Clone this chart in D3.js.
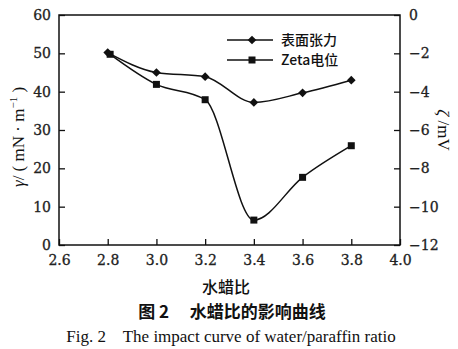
<!DOCTYPE html>
<html>
<head>
<meta charset="utf-8">
<script src="https://cdn.jsdelivr.net/npm/d3@7"></script>
<style>
  body { margin: 0; background: #fff; }
  svg text { fill: #111; }
</style>
</head>
<body>
<svg id="chart"></svg>
<script>
var ratio = [2.8, 3.0, 3.2, 3.4, 3.6, 3.8];
var zetaRatio = [2.81, 3.0, 3.2, 3.4, 3.6, 3.8];
var tension = [50.2, 45.0, 43.9, 37.2, 39.7, 43.0];   // mN/m, left axis
var zeta = [-2.05, -3.62, -4.42, -10.7, -8.47, -6.82]; // mV, right axis
var xTicks = [2.6, 2.8, 3.0, 3.2, 3.4, 3.6, 3.8, 4.0];
var yTicks = [0, 10, 20, 30, 40, 50, 60];
var zTicks = [0, -2, -4, -6, -8, -10, -12];
var legendNames = ["表面张力", "Zeta电位"];

var w = 458, h = 349;
var m = {left: 59, right: 58, top: 15, bottom: 104};

var svg = d3.select("#chart").attr("width", w).attr("height", h);

var x = d3.scaleLinear().domain([2.6, 4.0]).range([m.left, w - m.right]);
var y = d3.scaleLinear().domain([0, 60]).range([h - m.bottom, m.top]);
var z = d3.scaleLinear().domain([-12, 0]).range([h - m.bottom, m.top]);

var serif = "Liberation Serif, serif";
var tickFont = "DejaVu Serif, serif";
var cjk = "Noto Sans CJK SC, sans-serif";

// axes, ticks pointing inward
var gx = svg.append("g").attr("transform", "translate(0," + (h - m.bottom) + ")")
  .call(d3.axisTop(x).tickValues(xTicks).tickFormat(d3.format(".1f")).tickSize(6).tickPadding(0));
gx.selectAll("text").attr("y", 20).attr("dy", 0);

var gy = svg.append("g").attr("transform", "translate(" + m.left + ",0)")
  .call(d3.axisRight(y).tickValues(yTicks).tickSize(6));
gy.selectAll("text").attr("x", -8).attr("text-anchor", "end");

var gz = svg.append("g").attr("transform", "translate(" + (w - m.right) + ",0)")
  .call(d3.axisLeft(z).tickValues(zTicks).tickSize(6).tickFormat(function(d) { return d < 0 ? "\u2212" + (-d) : d; }));
gz.selectAll("text").attr("x", 9).attr("text-anchor", "start");

svg.selectAll(".domain").remove();
svg.selectAll(".tick line").attr("stroke", "#111").attr("stroke-width", 1.3);
svg.selectAll(".tick text").attr("font-family", tickFont).attr("font-size", 14)
  .attr("stroke", "#222").attr("stroke-width", 0.3).style("fill", "#222");

// frame
svg.append("rect")
  .attr("x", m.left).attr("y", m.top)
  .attr("width", w - m.right - m.left).attr("height", h - m.bottom - m.top)
  .attr("fill", "none").attr("stroke", "#111").attr("stroke-width", 1.5);

// curves
var lineT = d3.line().curve(d3.curveMonotoneX)
  .x(function(d, i) { return x(ratio[i]); }).y(function(d) { return y(d); });
var lineZ = d3.line().curve(d3.curveMonotoneX)
  .x(function(d, i) { return x(zetaRatio[i]); }).y(function(d) { return z(d); });

svg.append("path").attr("d", lineT(tension)).attr("fill", "none").attr("stroke", "#111").attr("stroke-width", 1.5);
svg.append("path").attr("d", lineZ(zeta)).attr("fill", "none").attr("stroke", "#111").attr("stroke-width", 1.5);

// diamond = square turned 45 degrees
var diamond = d3.symbol().type(d3.symbolSquare).size(38);
var square = d3.symbol().type(d3.symbolSquare).size(49);

svg.selectAll(".dia").data(tension).enter().append("path")
  .attr("d", diamond)
  .attr("transform", function(d, i) { return "translate(" + x(ratio[i]) + "," + y(d) + ") rotate(45)"; })
  .attr("fill", "#111");
svg.selectAll(".sq").data(zeta).enter().append("path")
  .attr("d", square)
  .attr("transform", function(d, i) { return "translate(" + x(zetaRatio[i]) + "," + z(d) + ")"; })
  .attr("fill", "#111");

// legend
var leg = svg.append("g");
legendNames.forEach(function(name, i) {
  var ly = 40 + i * 20;
  leg.append("line").attr("x1", 227).attr("x2", 273).attr("y1", ly).attr("y2", ly)
    .attr("stroke", "#111").attr("stroke-width", 1.5);
  leg.append("path").attr("d", i == 0 ? diamond : square)
    .attr("transform", "translate(252," + ly + ")" + (i == 0 ? " rotate(45)" : "")).attr("fill", "#111");
  leg.append("text").attr("x", 281).attr("y", ly + 5)
    .attr("font-family", cjk).attr("font-size", 14).attr("font-weight", 500)
    .text(name);
});

// axis titles
svg.append("text")
  .attr("transform", "translate(24,137) rotate(-90)")
  .attr("text-anchor", "middle").attr("font-family", serif).attr("font-size", 17)
  .attr("xml:space", "preserve")
  .html('<tspan font-style="italic">γ</tspan>/ ( mN · m<tspan dy="-7" font-size="11">−1</tspan><tspan dy="7"> )</tspan>');

svg.append("text")
  .attr("transform", "translate(438,130) rotate(90)")
  .attr("text-anchor", "middle").attr("font-family", serif).attr("font-size", 17)
  .html('<tspan font-style="italic">ζ</tspan> /mV');

svg.append("text").attr("x", 226).attr("y", 293)
  .attr("text-anchor", "middle").attr("font-family", cjk).attr("font-size", 16).attr("font-weight", 500)
  .text("水蜡比");

svg.append("text").attr("x", 232).attr("y", 318)
  .attr("text-anchor", "middle").attr("font-family", cjk).attr("font-size", 17).attr("font-weight", 700)
  .attr("xml:space", "preserve")
  .text("图 2　 水蜡比的影响曲线");

svg.append("text").attr("x", 231).attr("y", 342)
  .attr("text-anchor", "middle").attr("font-family", serif).attr("font-size", 17)
  .attr("xml:space", "preserve")
  .text("Fig. 2    The impact curve of water/paraffin ratio");
</script>
</body>
</html>
